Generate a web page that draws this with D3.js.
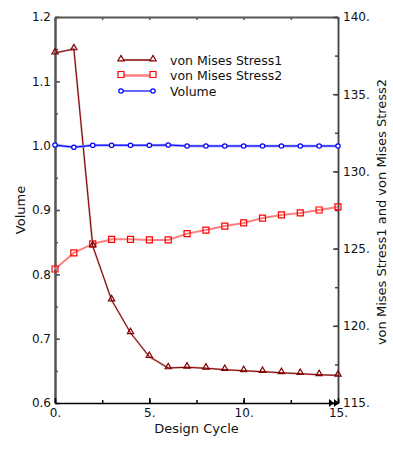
<!DOCTYPE html>
<html>
<head>
<meta charset="utf-8">
<script src="https://cdn.jsdelivr.net/npm/d3@7"></script>
<style>
  body { margin: 0; background: #fff; }
  text { font-family: "DejaVu Sans", Verdana, sans-serif; fill: #111; }
</style>
</head>
<body>
<div id="chart"></div>
<script>
// values
var cycles = [0, 1, 2, 3, 4, 5, 6, 7, 8, 9, 10, 11, 12, 13, 14, 15];
var stress1 = [137.67, 137.93, 125.17, 121.67, 119.55, 118.0, 117.27, 117.31, 117.25, 117.16, 117.09, 117.03, 116.96, 116.9, 116.83, 116.79];
var stress2 = [123.68, 124.72, 125.3, 125.6, 125.6, 125.56, 125.56, 125.97, 126.2, 126.46, 126.66, 126.98, 127.18, 127.31, 127.5, 127.7];
var volume = [1.001, 0.9975, 1.0006, 1.0006, 1.0006, 1.0006, 1.001, 0.9995, 0.9995, 0.9995, 0.9995, 0.9995, 0.9995, 0.9995, 0.9995, 0.9995];
var leftTicks = [0.6, 0.7, 0.8, 0.9, 1.0, 1.1, 1.2];
var rightTicks = [115, 120, 125, 130, 135, 140];
var xTicks = [0, 5, 10, 15];
var seriesNames = ["von Mises Stress1", "von Mises Stress2", "Volume"];

var width = 393, height = 450;
var plot = {left: 55, right: 338, top: 17, bottom: 403};

var svg = d3.select("#chart").append("svg")
  .attr("width", width)
  .attr("height", height);

var x = d3.scaleLinear().domain([0, 15]).range([plot.left, plot.right]);
var yL = d3.scaleLinear().domain([0.6, 1.2]).range([plot.bottom, plot.top]);
var yR = d3.scaleLinear().domain([115, 140]).range([plot.bottom, plot.top]);

function minor(a, b, step) {
  var out = [];
  for (var v = a; v <= b + 1e-9; v += step) out.push(+v.toFixed(4));
  return out;
}

/** draws one axis with inward ticks */
function drawAxis(axis, tx, ty, color, width) {
  var g = svg.append("g").attr("transform", "translate(" + tx + "," + ty + ")").call(axis);
  g.select(".domain").attr("stroke", color).attr("stroke-width", width);
  g.selectAll(".tick line").attr("stroke", color).attr("stroke-width", 1.5);
  g.selectAll("text").style("font-size", "12px").attr("fill", "#111");
  return g;
}

// minor ticks (no labels)
drawAxis(d3.axisLeft(yL).tickValues(minor(0.6, 1.2, 0.05)).tickSize(-3).tickSizeOuter(0).tickFormat(""), plot.left, 0, "#555", 2);
drawAxis(d3.axisRight(yR).tickValues(minor(115, 140, 2.5)).tickSize(-3).tickSizeOuter(0).tickFormat(""), plot.right, 0, "#444", 1.5);
drawAxis(d3.axisBottom(x).tickValues(minor(0, 15, 2.5)).tickSize(-3).tickSizeOuter(0).tickFormat(""), 0, plot.bottom, "#000", 1.5);
drawAxis(d3.axisTop(x).tickValues(minor(0, 15, 2.5)).tickSize(-3).tickSizeOuter(0).tickFormat(""), 0, plot.top, "#555", 2);

// labelled ticks
drawAxis(d3.axisLeft(yL).tickValues(leftTicks).tickSize(-5).tickSizeOuter(0).tickPadding(4).tickFormat(d3.format(".1f")), plot.left, 0, "#555", 2);
var gr = drawAxis(d3.axisRight(yR).tickValues(rightTicks).tickSize(-5).tickSizeOuter(0).tickPadding(4).tickFormat(function(d) { return d + "."; }), plot.right, 0, "#444", 1.5);
gr.selectAll("text").attr("x", 5);
var gb = drawAxis(d3.axisBottom(x).tickValues(xTicks).tickSize(-5).tickSizeOuter(0).tickPadding(4).tickFormat(function(d) { return d + "."; }), 0, plot.bottom, "#000", 1);
gb.selectAll("text").attr("y", 5);

// double arrow at the end of the x axis
[0, 5].forEach(function(o) {
  svg.append("path")
    .attr("d", "M" + (x(15) - 9 + o) + "," + (plot.bottom - 4) + "l5,4l-5,4z")
    .attr("fill", "#000");
});

// axis titles
svg.append("text").attr("x", (plot.left + plot.right) / 2).attr("y", 433)
  .attr("text-anchor", "middle").style("font-size", "13px").text("Design Cycle");
svg.append("text").attr("transform", "translate(25,210) rotate(-90)")
  .attr("text-anchor", "middle").style("font-size", "13px").text("Volume");
svg.append("text").attr("transform", "translate(386,212) rotate(-90)")
  .attr("text-anchor", "middle").style("font-size", "13px").text("von Mises Stress1 and von Mises Stress2");

function rows(vals) {
  return cycles.map(function(c, i) { return {x: c, y: vals[i]}; });
}

var lineR = d3.line().x(function(d) { return x(d.x); }).y(function(d) { return yR(d.y); });
var lineL = d3.line().x(function(d) { return x(d.x); }).y(function(d) { return yL(d.y); });

var tri = d3.symbol().type(d3.symbolTriangle).size(17);
var sq = d3.symbol().type(d3.symbolSquare).size(36);

// Stress2
svg.append("path").datum(rows(stress2)).attr("d", lineR)
  .attr("fill", "none").attr("stroke", "#ff8080").attr("stroke-width", 2);
svg.append("g").selectAll("path").data(rows(stress2)).enter().append("path")
  .attr("d", sq)
  .attr("transform", function(d) { return "translate(" + x(d.x) + "," + yR(d.y) + ")"; })
  .attr("fill", "none").attr("stroke", "#ff0000").attr("stroke-width", 1.2);

// Stress1
svg.append("path").datum(rows(stress1)).attr("d", lineR)
  .attr("fill", "none").attr("stroke", "#d4a8a8").attr("stroke-width", 2);
svg.append("path").datum(rows(stress1)).attr("d", lineR)
  .attr("fill", "none").attr("stroke", "#800000").attr("stroke-width", 1);
svg.append("g").selectAll("path").data(rows(stress1)).enter().append("path")
  .attr("d", tri)
  .attr("transform", function(d) { return "translate(" + x(d.x) + "," + (yR(d.y) - 1) + ")"; })
  .attr("fill", "none").attr("stroke", "#800000").attr("stroke-width", 1.2);

// Volume
svg.append("path").datum(rows(volume)).attr("d", lineL)
  .attr("fill", "none").attr("stroke", "#9090ff").attr("stroke-width", 2.5);
svg.append("path").datum(rows(volume)).attr("d", lineL)
  .attr("fill", "none").attr("stroke", "#0000ff").attr("stroke-width", 1);
svg.append("g").selectAll("circle").data(rows(volume)).enter().append("circle")
  .attr("cx", function(d) { return x(d.x); })
  .attr("cy", function(d) { return yL(d.y); })
  .attr("r", 2.2)
  .attr("fill", "#fff").attr("stroke", "#0000ff").attr("stroke-width", 1.2);

// legend
var legendStyles = [
  {stroke: "#800000", w: 1.5, marker: tri, mstroke: "#800000"},
  {stroke: "#ff8080", w: 2.5, marker: sq, mstroke: "#ff0000"},
  {stroke: "#0000ff", w: 1.2, marker: null, mstroke: "#0000ff"}
];
seriesNames.forEach(function(name, i) {
  var yy = 60 + i * 15.5;
  var s = legendStyles[i];
  svg.append("line").attr("x1", 121).attr("x2", 153).attr("y1", yy).attr("y2", yy)
    .attr("stroke", s.stroke).attr("stroke-width", s.w);
  [121, 153].forEach(function(px) {
    if (s.marker) {
      svg.append("path").attr("d", s.marker)
        .attr("transform", "translate(" + px + "," + (yy - 1) + ")")
        .attr("fill", "#fff").attr("stroke", s.mstroke).attr("stroke-width", 1.2);
    } else {
      svg.append("circle").attr("cx", px).attr("cy", yy).attr("r", 2.2)
        .attr("fill", "#fff").attr("stroke", s.mstroke).attr("stroke-width", 1.2);
    }
  });
  svg.append("text").attr("x", 170).attr("y", yy + 4.5)
    .style("font-size", "12.5px").text(name);
});
</script>
</body>
</html>
